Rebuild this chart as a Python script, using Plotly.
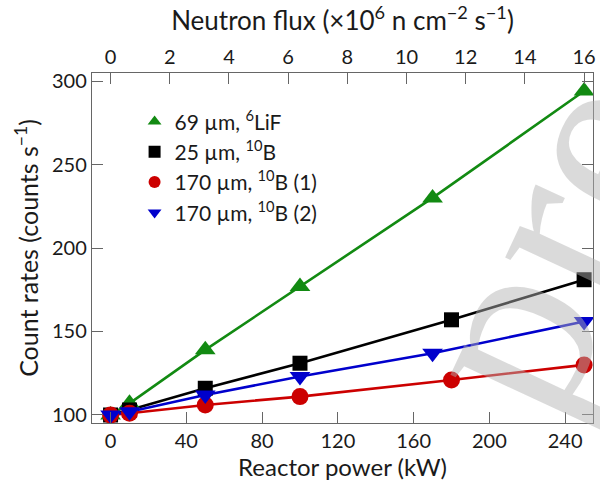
import plotly.graph_objects as go

# Reactor power (kW) at which each detector was measured
power_lif = [0, 10, 50, 100, 170, 250]
power_b25 = [0, 10, 50, 100, 180, 250]
power_b170_1 = [0, 10, 50, 100, 180, 250]
power_b170_2 = [0, 10, 50, 100, 170, 250]

# Count rates (counts/s)
rate_lif = [100, 107, 139, 177, 230, 294]
rate_b25 = [100, 103, 116, 131, 157, 181]
rate_b170_1 = [100, 101, 106, 111, 121, 130]
rate_b170_2 = [100, 102, 112, 123, 137, 156]

names = [
    "69 µm, <sup>6</sup>LiF",
    "25 µm, <sup>10</sup>B",
    "170 µm, <sup>10</sup>B (1)",
    "170 µm, <sup>10</sup>B (2)",
]
colors = ["#128a12", "#000000", "#cc0000", "#0000cc"]
symbols = ["triangle-up", "square", "circle", "triangle-down"]
msizes = [18, 15, 17, 18]

flux_per_kw = 16 / 250  # 10^6 n cm^-2 s^-1 per kW
xrange = [-9.8, 254.7]
yrange = [95.2, 304.8]

FONT = "Lato"
TXT = "#1a1a1a"
AX = "#666666"

fig = go.Figure()
series = [
    (power_lif, rate_lif),
    (power_b25, rate_b25),
    (power_b170_1, rate_b170_1),
    (power_b170_2, rate_b170_2),
]
# connecting lines first, then markers on top
for (xs, ys), c in zip(series, colors):
    fig.add_trace(go.Scatter(x=xs, y=ys, mode="lines",
                             line=dict(color=c, width=2.6),
                             showlegend=False, hoverinfo="skip"))
for (xs, ys), c, s, n, ms in zip(series, colors, symbols, names, msizes):
    fig.add_trace(go.Scatter(x=xs, y=ys, mode="markers", name=n,
                             marker=dict(color=c, symbol=s, size=ms,
                                         line=dict(width=0))))

# invisible trace to carry the top (neutron flux) axis
fig.add_trace(go.Scatter(x=[0, 16], y=[100, 100], xaxis="x2",
                         mode="markers", marker=dict(opacity=0),
                         showlegend=False, hoverinfo="skip"))

axis_common = dict(showgrid=False, zeroline=False, showline=True,
                   linecolor=AX, linewidth=1.4, ticks="inside",
                   ticklen=11, tickwidth=1.4, tickcolor=AX,
                   tickfont=dict(family=FONT, size=20, color=TXT))

fig.update_layout(
    width=600, height=488,
    margin=dict(l=92, r=4, t=73, b=65),
    paper_bgcolor="white", plot_bgcolor="white",
    font=dict(family=FONT, color=TXT),
    xaxis=dict(range=xrange, tickvals=[0, 40, 80, 120, 160, 200, 240],
               title=dict(text="Reactor power (kW)",
                          font=dict(family=FONT, size=24, color=TXT),
                          standoff=4),
               **axis_common),
    xaxis2=dict(range=[v * flux_per_kw for v in xrange],
                overlaying="x", side="top",
                tickvals=[0, 2, 4, 6, 8, 10, 12, 14, 16],
                title=dict(text="Neutron flux (×10<sup>6</sup> n cm<sup>−2</sup> s<sup>−1</sup>)",
                           font=dict(family=FONT, size=26, color=TXT),
                           standoff=5),
                **axis_common),
    yaxis=dict(range=yrange, tickvals=[100, 150, 200, 250, 300],
               mirror="ticks",
               title=dict(text="Count rates (counts s<sup>−1</sup>)",
                          font=dict(family=FONT, size=25, color=TXT),
                          standoff=6),
               **axis_common),
    legend=dict(x=0.085, y=0.919, xanchor="left", yanchor="top",
                bgcolor="rgba(0,0,0,0)", borderwidth=0,
                font=dict(family=FONT, size=21, color=TXT),
                itemsizing="constant"),
    showlegend=True,
)

# translucent watermark lettering over the plot
fig.add_annotation(text="pre", xref="paper", yref="paper",
                   x=0.909, y=0.515, xanchor="center", yanchor="middle",
                   showarrow=False, textangle=-65,
                   font=dict(family="Liberation Serif", size=260,
                             color="rgba(177,177,177,0.48)"))

fig.write_html("out.html")
